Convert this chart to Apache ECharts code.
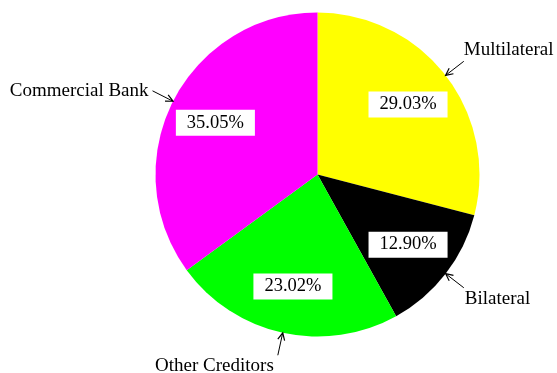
<!DOCTYPE html>
<html>
<head>
<meta charset="utf-8">
<script src="https://cdn.jsdelivr.net/npm/echarts@6/dist/echarts.min.js"></script>
<style>
  html, body { margin: 0; padding: 0; background: #ffffff; }
  #chart { width: 557px; height: 373px; }
</style>
</head>
<body>
<div id="chart"></div>
<script>
// Creditor composition (percent of total)
const categories = ['Multilateral', 'Bilateral', 'Other Creditors', 'Commercial Bank'];
const shares = [29.03, 12.90, 23.02, 35.05];
const sliceColors = ['#ffff00', '#000000', '#00ff00', '#ff00ff'];
// where each outside name sits relative to the end of its pointer line
const namePlacement = ['above', 'below', 'below', 'level'];
const nameGap = [0, 1, 4, 4];

const FONT = '"Liberation Serif", "Times New Roman", serif';
const CENTER = ['57%', '46.8%'];
const RADIUS = 162;

function nameText(name, place) {
  if (place === 'above') return name + '\n ';
  if (place === 'below') return ' \n' + name;
  return name;
}

const outerData = categories.map((name, i) => ({
  name: name,
  value: shares[i],
  itemStyle: { color: sliceColors[i] },
  label: { distanceToLabelLine: nameGap[i] }
}));

const innerData = categories.map((name, i) => ({ name: name, value: shares[i] }));

const chart = echarts.init(document.getElementById('chart'), null, { renderer: 'canvas' });

chart.setOption({
  backgroundColor: '#ffffff',
  animation: false,
  series: [
    {
      type: 'pie',
      center: CENTER,
      radius: [0, RADIUS],
      startAngle: 90,
      clockwise: true,
      avoidLabelOverlap: false,
      silent: true,
      data: outerData,
      itemStyle: { borderWidth: 0 },
      label: {
        show: true,
        position: 'outside',
        color: '#000000',
        fontFamily: FONT,
        fontSize: 19,
        lineHeight: 22,
        distanceToLabelLine: 3,
        formatter: p => nameText(p.name, namePlacement[p.dataIndex])
      },
      labelLine: {
        show: true,
        length: 23,
        length2: 0,
        smooth: false,
        lineStyle: { color: '#000000', width: 1 }
      }
    },
    {
      // transparent ring whose inside labels carry the percentages
      type: 'pie',
      center: CENTER,
      radius: [RADIUS - 101, RADIUS],
      startAngle: 90,
      clockwise: true,
      avoidLabelOverlap: false,
      silent: true,
      z: 3,
      data: innerData,
      itemStyle: { color: 'rgba(0,0,0,0)', borderWidth: 0 },
      label: {
        show: true,
        position: 'inside',
        color: '#000000',
        fontFamily: FONT,
        fontSize: 18.5,
        lineHeight: 20,
        backgroundColor: '#ffffff',
        padding: [3, 11, 3, 11],
        formatter: p => p.value.toFixed(2) + '%'
      },
      labelLine: { show: false }
    }
  ]
});

// Arrow heads at the slice edge, where each pointer line meets the pie
function drawArrowHeads() {
  const data = chart.getModel().getSeriesByIndex(0).getData();
  const heads = [];
  const headLen = 8;
  const spread = Math.PI / 7;
  for (let i = 0; i < data.count(); i++) {
    const lay = data.getItemLayout(i);
    const mid = (lay.startAngle + lay.endAngle) / 2;
    const tipX = lay.cx + lay.r * Math.cos(mid);
    const tipY = lay.cy + lay.r * Math.sin(mid);
    // heads open outward, toward the label
    const p1 = [tipX + headLen * Math.cos(mid + spread), tipY + headLen * Math.sin(mid + spread)];
    const p2 = [tipX + headLen * Math.cos(mid - spread), tipY + headLen * Math.sin(mid - spread)];
    heads.push({
      type: 'polyline',
      silent: true,
      z: 10,
      shape: { points: [p1, [tipX, tipY], p2] },
      style: { stroke: '#000000', lineWidth: 1.2, fill: null }
    });
  }
  chart.setOption({ graphic: heads });
}
drawArrowHeads();
</script>
</body>
</html>
